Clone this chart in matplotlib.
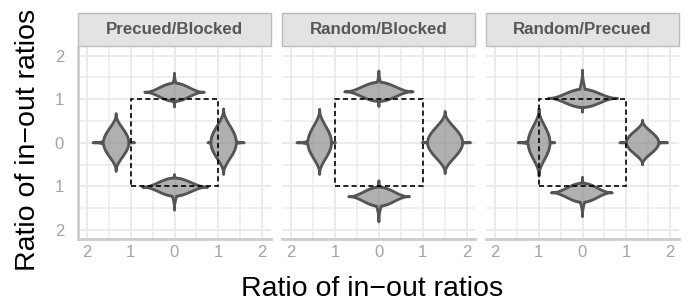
import numpy as np
import matplotlib.pyplot as plt
from matplotlib.patches import Polygon, Rectangle

plt.rcParams['font.family'] = ['Liberation Sans', 'DejaVu Sans']

facets = ['Precued/Blocked', 'Random/Blocked', 'Random/Precued']

# one row per facet, shapes in order: top, bottom, left, right
center_x = [[0.0, 0.0, -1.33, 1.12], [0.0, 0.0, -1.35, 1.51], [0.0, 0.0, -0.99, 1.37]]
center_y = [[1.16, -1.02, 0.0, 0.0], [1.17, -1.24, 0.0, 0.0], [1.02, -1.15, 0.0, 0.0]]
x_min = [[-0.68, -0.73, -1.86, 0.76], [-0.78, -0.69, -1.87, 0.99], [-0.78, -0.71, -1.47, 0.85]]
x_max = [[0.68, 0.76, -0.91, 1.59], [0.78, 0.70, -0.99, 2.09], [0.80, 0.68, -0.63, 1.94]]
y_min = [[0.82, -1.55, -0.66, -0.73], [0.83, -1.82, -0.73, -0.71], [0.70, -1.70, -0.77, -0.51]]
y_max = [[1.60, -0.73, 0.67, 0.78], [1.65, -0.87, 0.77, 0.72], [1.67, -0.79, 0.78, 0.52]]
# peak half-width of the x-violin (horizontal) and y-violin (vertical)
hw_x = [[0.21, 0.21, 0.08, 0.08], [0.22, 0.22, 0.08, 0.08], [0.21, 0.22, 0.08, 0.08]]
hw_y = [[0.08, 0.08, 0.29, 0.29], [0.08, 0.08, 0.27, 0.40], [0.08, 0.08, 0.25, 0.37]]

tick_vals = [-2, -1, 0, 1, 2]
tick_labels = ['2', '1', '0', '1', '2']


def profile(s, k):
    return np.clip(1 - s ** 2, 0, None) ** k


def cross_violin(cx, cy, x0, x1, y0, y1, tx, ty):
    # outline of a horizontal violin and a vertical violin joined together
    kx = 2.4 if tx > ty else 3.0
    ky = 2.4 if ty > tx else 3.0
    ang = np.linspace(0, 2 * np.pi, 1441)
    r = np.linspace(0, 1.2, 1201)
    dx = np.outer(np.cos(ang), r)
    dy = np.outer(np.sin(ang), r)
    sx = np.where(dx >= 0, dx / (x1 - cx), dx / (cx - x0))
    sy = np.where(dy >= 0, dy / (y1 - cy), dy / (cy - y0))
    inside = ((np.abs(sx) <= 1) & (np.abs(dy) <= tx * profile(sx, kx))) | \
             ((np.abs(sy) <= 1) & (np.abs(dx) <= ty * profile(sy, ky)))
    idx = inside.shape[1] - 1 - np.argmax(inside[:, ::-1], axis=1)
    rr = r[idx]
    return np.column_stack([cx + rr * np.cos(ang), cy + rr * np.sin(ang)])


fig = plt.figure(figsize=(6.88, 3.01), dpi=100)
W, H = 688.0, 301.0
lefts = [78, 282.4, 486]
pw, pb, ph = 193, 62.5, 191.5

for i, name in enumerate(facets):
    ax = fig.add_axes([lefts[i] / W, pb / H, pw / W, ph / H])
    ax.set_xlim(-2.2, 2.2)
    ax.set_ylim(-2.2, 2.2)
    ax.set_xticks(tick_vals)
    ax.set_xticklabels(tick_labels)
    ax.set_yticks(tick_vals)
    ax.set_yticklabels(tick_labels if i == 0 else [])
    ax.set_xticks([-1.5, -0.5, 0.5, 1.5], minor=True)
    ax.set_yticks([-1.5, -0.5, 0.5, 1.5], minor=True)
    ax.grid(which='major', color='#EBEBEB', lw=1.4)
    ax.grid(which='minor', color='#EBEBEB', lw=1.1)
    ax.set_axisbelow(True)
    ax.tick_params(which='both', length=0, labelsize=12, labelcolor='#A3A3A3')
    ax.tick_params(axis='y', pad=10)
    ax.tick_params(axis='x', pad=5)
    for side in ['top', 'right']:
        ax.spines[side].set_visible(False)
    ax.spines['left'].set_visible(i == 0)
    for side in ['left', 'bottom']:
        ax.spines[side].set_color('#CCCCCC')
        ax.spines[side].set_linewidth(2.0)

    for j in range(4):
        pts = cross_violin(center_x[i][j], center_y[i][j], x_min[i][j], x_max[i][j],
                           y_min[i][j], y_max[i][j], hw_x[i][j], hw_y[i][j])
        ax.add_patch(Polygon(pts, closed=True, facecolor=(0.5, 0.5, 0.5, 0.62),
                             edgecolor='#555555', lw=2.0, joinstyle='round', zorder=2))
    ax.add_patch(Rectangle((-1, -1), 2, 2, fill=False, edgecolor='black', lw=1.2,
                           linestyle=(0, (3, 2)), zorder=3))

    # facet strip
    fig.patches.append(Rectangle((lefts[i] / W, 255.5 / H), pw / W, 32.5 / H,
                                 transform=fig.transFigure, facecolor='#E3E3E3',
                                 edgecolor='#BBBBBB', lw=1.0))
    fig.text((lefts[i] + pw / 2) / W, (255.5 + 16.25) / H, name, ha='center', va='center',
             fontsize=12.2, fontweight='bold', color='#575757')

fig.text(372 / W, 1 - 296 / H, 'Ratio of in\u2212out ratios', ha='center', va='baseline',
         fontsize=20.5, color='black')
fig.text(35 / W, 1 - 140 / H, 'Ratio of in\u2212out ratios', ha='center', va='baseline',
         fontsize=20.5, color='black', rotation=90, rotation_mode='anchor')

fig.savefig('out.png', dpi=100)
